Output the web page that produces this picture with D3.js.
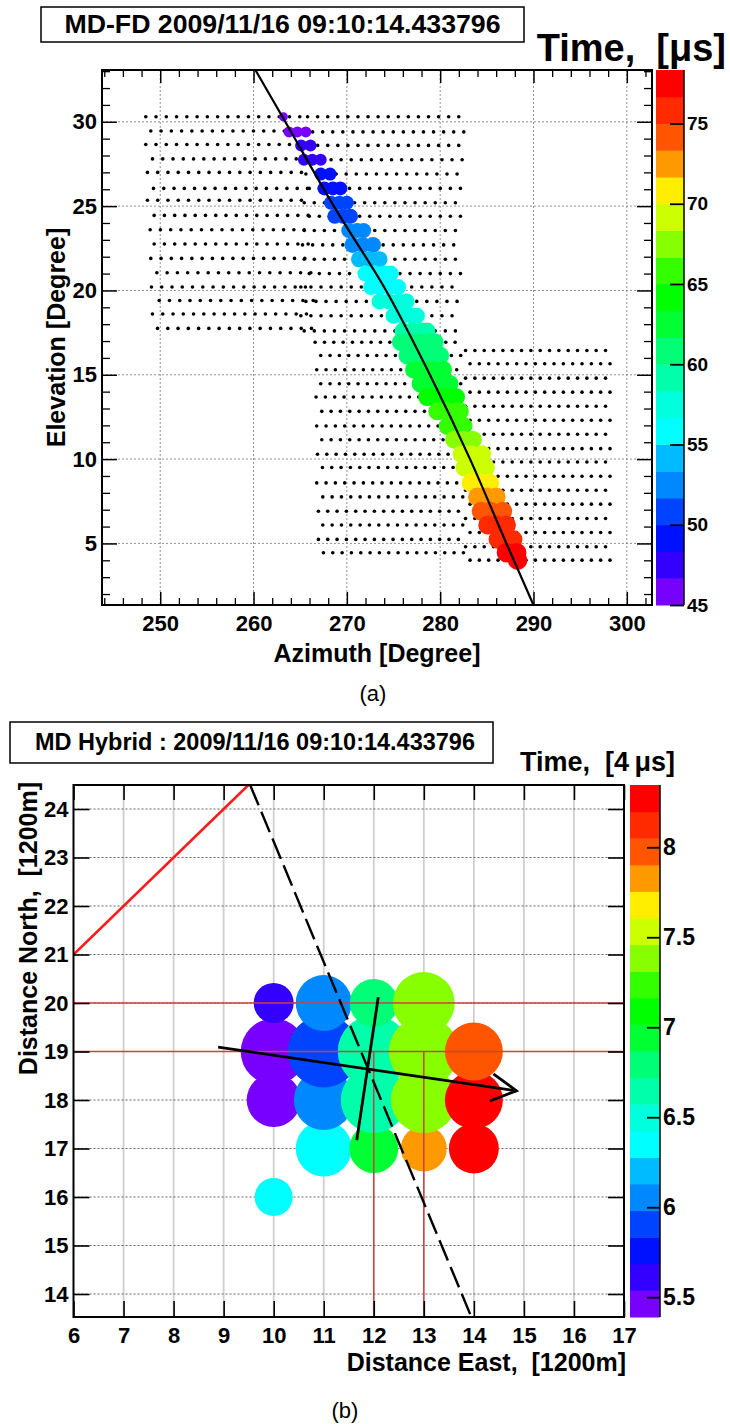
<!DOCTYPE html>
<html><head><meta charset="utf-8">
<script src="https://cdn.jsdelivr.net/npm/d3@7"></script>
<style>
body{margin:0;background:#fff}
svg text{font-family:"Liberation Sans",Arial,Helvetica,sans-serif}
</style>
</head><body>
<svg id="c" width="730" height="1424"></svg>
<script>
// ---------------- shared palette (ROOT-like, 20 contours, low -> high)
const palette20 = ["#7700ff","#3300ff","#0011ff","#0044ff","#0088ff","#00bbff","#00ffff","#00ffdd","#00ffaa","#00ff77",
                   "#00ff33","#00ff00","#33ff00","#88ff00","#ccff00","#ffee00","#ff9900","#ff5500","#ff2a00","#ff0000"];

// ---------------- Panel (a) data
const titleA = "MD-FD 2009/11/16 09:10:14.433796";
const azTicksA = [250,260,270,280,290,300];
const elTicksA = [5,10,15,20,25,30];
const timeTicksA = [45,50,55,60,65,70,75];
const timeRangeA = [45, 78.333];

const camCols = 16;
const camStep = [1.1, 1.08, 1.0, 1.0];
const camAEl  = [30.3,29.45,28.65,27.8,27.0,26.05,25.35,24.45,23.6,22.75,21.9,21.05,20.2,19.4,18.6,17.75];
const camAAz0 = [248.45,248.99,248.45,249.17,248.63,249.28,248.63,249.35,248.92,249.35,248.99,249.64,249.06,249.89,249.17,249.71];
const camBEl  = [30.3,29.4,28.6,27.75,26.9,26.05,25.2,24.4,23.55,22.7,21.85,21.0,20.2,19.35,18.5,17.6];
const camBAz0 = [265.79,266.33,265.79,266.15,265.61,265.97,265.43,265.97,265.43,265.25,265.43,265.97,265.07,265.61,265.07,265.43];
const camCEl  = [16.93,16.14,15.30,14.47,13.68,12.83,11.96,11.15,10.29,9.50,8.59,7.76,6.91,6.09,5.24,4.45];
const camCAz0 = [266.6,267.2,266.77,267.2,266.7,267.31,266.77,267.31,266.85,267.38,266.77,267.42,266.95,267.42,266.95,267.49];
const camDEl  = [16.44,15.65,14.80,13.97,13.13,12.30,11.47,10.62,9.83,8.98,8.15,7.33,6.48,5.65,4.80,4.01];
const camDAz0 = [282.72,283.2,282.72,283.2,282.72,283.2,282.72,283.2,282.72,283.2,282.72,283.2,282.72,283.2,282.72,283.2];

const hitEl = [30.3,29.4,28.6,27.75,26.9,26.05,25.2,24.4,23.55,22.7,21.85,21.0,20.2,19.35,18.5,17.6,
               16.93,16.14,15.30,14.47,13.68,12.83,11.96,11.15,10.29,9.50,8.59,7.76,6.91,6.09,5.24,4.45,4.01];
const hitAz = [
 [263.2],[263.8,264.7,265.6],[265.1,266.1],[265.4,266.3,267.2],[267.2,268.2],[267.6,268.5,269.3],
 [268.3,269.2,270.0],[268.7,269.6,270.4],[270.2,271.1,271.8],[270.6,271.7,272.8],[271.3,272.4,273.5],
 [272.0,273.0,274.0,274.7],[272.6,273.6,274.6,275.5],[273.5,274.5,275.5,276.4],[275.0,276.0,277.0,277.5],
 [276.0,277.0,278.0,278.6],[275.8,276.8,277.8,278.8,279.4],[276.5,277.5,278.5,279.5,280.0],
 [277.2,278.2,279.2,280.3],[277.9,278.9,279.9,281.0],[278.6,279.6,280.6,281.7],[279.7,280.7,281.7,282.1],
 [280.8,281.8,282.5],[281.5,282.5,283.5],[282.3,283.3,284.5],[282.6,283.6,284.9],[283.3,284.3,285.3],
 [284.0,285.0,286.0],[284.4,285.4,286.7],[285.1,286.1,287.1],[286.2,287.2,287.8],[287.1,288.2],[288.3]
];
const hitTime = [45.5,46.2,47.0,47.8,48.6,49.4,50.2,51.0,52.0,53.0,54.0,55.3,56.2,57.0,58.0,59.0,
                 60.0,61.0,62.0,63.0,64.0,65.5,66.5,67.5,68.7,69.7,70.8,72.0,73.5,75.0,76.5,77.5,78.0];
const hitNpe = [20,30,36,36,42,49,49,56,56,64,64,64,64,64,64,70,81,81,81,81,81,81,81,81,81,81,90,90,90,90,90,95,95];

const trackAz = [260.2,263.4,268.6,274.2,278.9,283.2,287.1,290.0];
const trackEl = [33.07,30,25,20,15,10,5,1.35];

// ---------------- Panel (b) data
const titleB = "MD Hybrid : 2009/11/16 09:10:14.433796";
const eastTicks = [6,7,8,9,10,11,12,13,14,15,16,17];
const northTicks = [14,15,16,17,18,19,20,21,22,23,24];
const timeTicksB = [5.5,6,6.5,7,7.5,8];
const timeRangeB = [5.39, 8.346];

const sdX = [10,10,10,10, 11,11,11,11, 12,12,12,12, 13,13,13,13, 14,14,14];
const sdY = [16,18,19,20, 17,18,19,20, 17,18,19,20, 17,18,19,20, 17,18,19];
const sdTime = [6.40,5.45,5.45,5.6, 6.35,6.05,5.9,6.05, 6.95,6.65,6.65,6.8, 7.8,7.45,7.35,7.4, 8.28,8.28,7.98];
const sdRho  = [22.6,45.6,68,25, 49,56,81,49, 37.5,68,81,36, 33,68,76.6,60, 39,52.6,52.6];

const redGridY = [19,20];
const redGridX = [12,13];
const fdLineX = [6, 9.495];
const fdLineY = [21, 24.495];
const sdpLineX = [9.53, 13.95];
const sdpLineY = [24.495, 13.526];
const axisLineX = [8.89, 14.85];
const axisLineY = [19.09, 18.19];
const arrowX = [14.39, 14.85, 14.32];
const arrowY = [18.54, 18.19, 17.98];
const perpLineX = [11.66, 12.09];
const perpLineY = [17.17, 20.12];

// =====================================================================
const svg = d3.select('#c');
const FONT = '"Liberation Sans",Arial,Helvetica,sans-serif';

function styleAxis(g, size, sw){
  g.attr('font-size', size).attr('font-family', FONT).attr('font-weight','bold');
  g.select('.domain').remove();
  g.selectAll('line').attr('stroke','#000').attr('stroke-width', sw);
  g.selectAll('text').attr('fill','#000');
}

// ---------------- Panel (a)
const A = {l:102, r:652, t:70, b:605};
const ax = d3.scaleLinear().domain([243.76, 302.7]).range([A.l, A.r]);
const ay = d3.scaleLinear().domain([1.35, 33.07]).range([A.b, A.t]);
const colA = d3.scaleQuantize().domain(timeRangeA).range(palette20);
const tyA = d3.scaleLinear().domain(timeRangeA).range([A.b, A.t]);
const rA = d3.scaleSqrt().domain([0,100]).range([0,10]);

svg.append('clipPath').attr('id','clipA').append('rect')
  .attr('x',A.l).attr('y',A.t).attr('width',A.r-A.l).attr('height',A.b-A.t);
const gA = svg.append('g');
const pA = gA.append('g').attr('clip-path','url(#clipA)');

pA.selectAll('line.gx').data(azTicksA).join('line').attr('class','gx')
  .attr('x1',d=>ax(d)).attr('x2',d=>ax(d)).attr('y1',A.t).attr('y2',A.b)
  .attr('stroke','#777').attr('stroke-width',0.8).attr('stroke-dasharray','2,2');
pA.selectAll('line.gy').data(elTicksA).join('line').attr('class','gy')
  .attr('y1',d=>ay(d)).attr('y2',d=>ay(d)).attr('x1',A.l).attr('x2',A.r)
  .attr('stroke','#777').attr('stroke-width',0.8).attr('stroke-dasharray','2,2');

const cams = [[camAEl,camAAz0,camStep[0]],[camBEl,camBAz0,camStep[1]],[camCEl,camCAz0,camStep[2]],[camDEl,camDAz0,camStep[3]]];
const pmts = [];
cams.forEach(([els,az0,step]) => els.forEach((el,i) => d3.range(camCols).forEach(k => pmts.push([az0[i]+k*step, el]))));
pA.selectAll('circle.pmt').data(pmts).join('circle').attr('class','pmt')
  .attr('cx',d=>ax(d[0])).attr('cy',d=>ay(d[1])).attr('r',1.8).attr('fill','#000');

const hits = [];
hitEl.forEach((el,i) => hitAz[i].forEach(az => hits.push({az, el, t:hitTime[i], n:hitNpe[i]})));
pA.selectAll('circle.hit').data(hits).join('circle').attr('class','hit')
  .attr('cx',d=>ax(d.az)).attr('cy',d=>ay(d.el)).attr('r',d=>rA(d.n)).attr('fill',d=>colA(d.t));

pA.append('path').datum(trackAz.map((a,i)=>[a,trackEl[i]]))
  .attr('d', d3.line().x(d=>ax(d[0])).y(d=>ay(d[1])).curve(d3.curveMonotoneY))
  .attr('fill','none').attr('stroke','#000').attr('stroke-width',2.2);

// ticks
const azMinor = d3.range(244, 303, 2).filter(d => d % 10 !== 0);
const elMinor = d3.range(2, 34, 1).filter(d => d % 5 !== 0);
styleAxis(gA.append('g').attr('transform',`translate(0,${A.b})`)
  .call(d3.axisBottom(ax).tickValues(azTicksA).tickSize(-13).tickPadding(10).tickFormat(d3.format('d'))), 22, 1.5);
styleAxis(gA.append('g').attr('transform',`translate(0,${A.b})`)
  .call(d3.axisBottom(ax).tickValues(azMinor).tickSize(-7).tickFormat('')), 10, 1.3);
styleAxis(gA.append('g').attr('transform',`translate(0,${A.t})`)
  .call(d3.axisTop(ax).tickValues(azTicksA).tickSize(-13).tickFormat('')), 10, 1.5);
styleAxis(gA.append('g').attr('transform',`translate(0,${A.t})`)
  .call(d3.axisTop(ax).tickValues(azMinor).tickSize(-7).tickFormat('')), 10, 1.3);
styleAxis(gA.append('g').attr('transform',`translate(${A.l},0)`)
  .call(d3.axisLeft(ay).tickValues(elTicksA).tickSize(-15).tickPadding(5).tickFormat(d3.format('d'))), 22, 1.5);
styleAxis(gA.append('g').attr('transform',`translate(${A.l},0)`)
  .call(d3.axisLeft(ay).tickValues(elMinor).tickSize(-8).tickFormat('')), 10, 1.3);
styleAxis(gA.append('g').attr('transform',`translate(${A.r},0)`)
  .call(d3.axisRight(ay).tickValues(elTicksA).tickSize(-15).tickFormat('')), 10, 1.5);
styleAxis(gA.append('g').attr('transform',`translate(${A.r},0)`)
  .call(d3.axisRight(ay).tickValues(elMinor).tickSize(-8).tickFormat('')), 10, 1.3);

gA.append('rect').attr('x',A.l).attr('y',A.t).attr('width',A.r-A.l).attr('height',A.b-A.t)
  .attr('fill','none').attr('stroke','#000').attr('stroke-width',2);

// colour bar (a)
const cbA = {l:656, r:684};
const bandsA = [timeRangeA[0], ...colA.thresholds(), timeRangeA[1]];
gA.selectAll('rect.band').data(d3.pairs(bandsA)).join('rect').attr('class','band')
  .attr('x',cbA.l).attr('width',cbA.r-cbA.l)
  .attr('y',d=>tyA(d[1])).attr('height',d=>tyA(d[0])-tyA(d[1])+0.5)
  .attr('fill',d=>colA((d[0]+d[1])/2));
gA.append('line').attr('x1',cbA.r).attr('x2',cbA.r).attr('y1',A.t).attr('y2',A.b).attr('stroke','#000').attr('stroke-width',1.5);
styleAxis(gA.append('g').attr('transform',`translate(${cbA.r},0)`)
  .call(d3.axisRight(tyA).tickValues(timeTicksA).tickSize(-14).tickPadding(3).tickFormat(d3.format('d'))), 19, 1.8);

// texts (a)
gA.append('rect').attr('x',41).attr('y',7).attr('width',483).attr('height',35)
  .attr('fill','#fff').attr('stroke','#000').attr('stroke-width',1.5);
gA.append('text').attr('x',282.5).attr('y',33).attr('text-anchor','middle')
  .attr('font-size',26).attr('font-weight','bold').attr('textLength',436).attr('lengthAdjust','spacingAndGlyphs').text(titleA);
gA.append('text').attr('x',726).attr('y',61).attr('text-anchor','end').style('white-space','pre')
  .attr('font-size',38).attr('font-weight','bold').text('Time,  [\u03bcs]');
gA.append('text').attr('x',(A.l+A.r)/2).attr('y',662).attr('text-anchor','middle')
  .attr('font-size',25).attr('font-weight','bold').text('Azimuth [Degree]');
gA.append('text').attr('transform',`translate(56,${(A.t+A.b)/2}) rotate(-90)`).attr('text-anchor','middle')
  .attr('dy','0.35em').attr('font-size',25).attr('font-weight','bold').text('Elevation [Degree]');
gA.append('text').attr('x',373).attr('y',693).attr('text-anchor','middle').attr('dy','0.35em')
  .attr('font-family','"Liberation Serif","DejaVu Serif",serif').attr('font-size',22).text('(a)');

// ---------------- Panel (b)
const B = {l:73.5, r:624, t:785, b:1317};
const bx = d3.scaleLinear().domain([6,17]).range([B.l, B.r]);
const by = d3.scaleLinear().domain([13.526, 24.495]).range([B.b, B.t]);
const colB = d3.scaleQuantize().domain(timeRangeB).range(palette20);
const tyB = d3.scaleLinear().domain(timeRangeB).range([B.b, B.t]);
const rB = d3.scaleSqrt().domain([0,64]).range([0,32]);

svg.append('clipPath').attr('id','clipB').append('rect')
  .attr('x',B.l).attr('y',B.t).attr('width',B.r-B.l).attr('height',B.b-B.t);
const gB = svg.append('g');
const pB = gB.append('g').attr('clip-path','url(#clipB)');

pB.selectAll('line.gx').data(eastTicks.slice(1,-1)).join('line').attr('class','gx')
  .attr('x1',d=>bx(d)).attr('x2',d=>bx(d)).attr('y1',B.t).attr('y2',B.b)
  .attr('stroke','#cfcfcf').attr('stroke-width',1.8);
pB.selectAll('line.gy').data(northTicks).join('line').attr('class','gy')
  .attr('y1',d=>by(d)).attr('y2',d=>by(d)).attr('x1',B.l).attr('x2',B.r)
  .attr('stroke','#555').attr('stroke-width',0.9).attr('stroke-dasharray','2,2');

const sds = sdX.map((x,i)=>({x, y:sdY[i], t:sdTime[i], rho:sdRho[i]}));
pB.selectAll('circle.sd').data(sds).join('circle').attr('class','sd')
  .attr('cx',d=>bx(d.x)).attr('cy',d=>by(d.y)).attr('r',d=>rB(d.rho)).attr('fill',d=>colB(d.t));

pB.selectAll('line.rh').data(redGridY).join('line').attr('class','rh')
  .attr('x1',B.l).attr('x2',B.r).attr('y1',d=>by(d)).attr('y2',d=>by(d))
  .attr('stroke','#cc4040').attr('stroke-width',1.5);
pB.selectAll('line.rv').data(redGridX).join('line').attr('class','rv')
  .attr('x1',d=>bx(d)).attr('x2',d=>bx(d)).attr('y1',B.b).attr('y2',by(redGridY[0]))
  .attr('stroke','#cc4040').attr('stroke-width',1.5);

const lineB = d3.line().x(d=>bx(d[0])).y(d=>by(d[1]));
pB.append('path').datum(fdLineX.map((x,i)=>[x,fdLineY[i]])).attr('d',lineB)
  .attr('fill','none').attr('stroke','#ff1a1a').attr('stroke-width',2.6);
pB.append('path').datum(sdpLineX.map((x,i)=>[x,sdpLineY[i]])).attr('d',lineB)
  .attr('fill','none').attr('stroke','#000').attr('stroke-width',2.4).attr('stroke-dasharray','22,7');
pB.append('path').datum(axisLineX.map((x,i)=>[x,axisLineY[i]])).attr('d',lineB)
  .attr('fill','none').attr('stroke','#000').attr('stroke-width',2.8);
pB.append('path').datum(arrowX.map((x,i)=>[x,arrowY[i]])).attr('d',lineB)
  .attr('fill','none').attr('stroke','#000').attr('stroke-width',2.8);
pB.append('path').datum(perpLineX.map((x,i)=>[x,perpLineY[i]])).attr('d',lineB)
  .attr('fill','none').attr('stroke','#000').attr('stroke-width',2.8);

styleAxis(gB.append('g').attr('transform',`translate(0,${B.b})`)
  .call(d3.axisBottom(bx).tickValues(eastTicks).tickSize(-16).tickPadding(10).tickFormat(d3.format('d'))), 22, 1.6);
styleAxis(gB.append('g').attr('transform',`translate(0,${B.t})`)
  .call(d3.axisTop(bx).tickValues(eastTicks).tickSize(-15).tickFormat('')), 10, 1.6);
styleAxis(gB.append('g').attr('transform',`translate(${B.l},0)`)
  .call(d3.axisLeft(by).tickValues(northTicks).tickSize(-16).tickPadding(5).tickFormat(d3.format('d'))), 22, 1.6);
styleAxis(gB.append('g').attr('transform',`translate(${B.r},0)`)
  .call(d3.axisRight(by).tickValues(northTicks).tickSize(-16).tickFormat('')), 10, 1.6);

gB.append('rect').attr('x',B.l).attr('y',B.t).attr('width',B.r-B.l).attr('height',B.b-B.t)
  .attr('fill','none').attr('stroke','#000').attr('stroke-width',2);

const cbB = {l:630, r:660};
const bandsB = [timeRangeB[0], ...colB.thresholds(), timeRangeB[1]];
gB.selectAll('rect.band').data(d3.pairs(bandsB)).join('rect').attr('class','band')
  .attr('x',cbB.l).attr('width',cbB.r-cbB.l)
  .attr('y',d=>tyB(d[1])).attr('height',d=>tyB(d[0])-tyB(d[1])+0.5)
  .attr('fill',d=>colB((d[0]+d[1])/2));
gB.append('line').attr('x1',cbB.r).attr('x2',cbB.r).attr('y1',B.t).attr('y2',B.b).attr('stroke','#000').attr('stroke-width',1.5);
styleAxis(gB.append('g').attr('transform',`translate(${cbB.r},0)`)
  .call(d3.axisRight(tyB).tickValues(timeTicksB).tickSize(-13).tickPadding(3).tickFormat(d=>String(d))), 23, 1.8);

gB.append('rect').attr('x',10).attr('y',722).attr('width',483).attr('height',41)
  .attr('fill','#fff').attr('stroke','#000').attr('stroke-width',1.5);
gB.append('text').attr('x',255).attr('y',750).attr('text-anchor','middle')
  .attr('font-size',23.5).attr('font-weight','bold').attr('textLength',440).attr('lengthAdjust','spacingAndGlyphs').text(titleB);
gB.append('text').attr('x',675).attr('y',771).attr('text-anchor','end').style('white-space','pre')
  .attr('font-size',27).attr('font-weight','bold').text('Time,  [4\u2009\u03bcs]');
gB.append('text').attr('x',B.r+2).attr('y',1371).attr('text-anchor','end').style('white-space','pre')
  .attr('font-size',25).attr('font-weight','bold').text('Distance East,  [1200m]');
gB.append('text').attr('transform',`translate(28,${B.t-3}) rotate(-90)`).attr('text-anchor','end').style('white-space','pre')
  .attr('dy','0.35em').attr('font-size',25).attr('font-weight','bold').text('Distance North,  [1200m]');
gB.append('text').attr('x',345).attr('y',1410).attr('text-anchor','middle').attr('dy','0.35em')
  .attr('font-family','"Liberation Serif","DejaVu Serif",serif').attr('font-size',22).text('(b)');
</script>
</body></html>
